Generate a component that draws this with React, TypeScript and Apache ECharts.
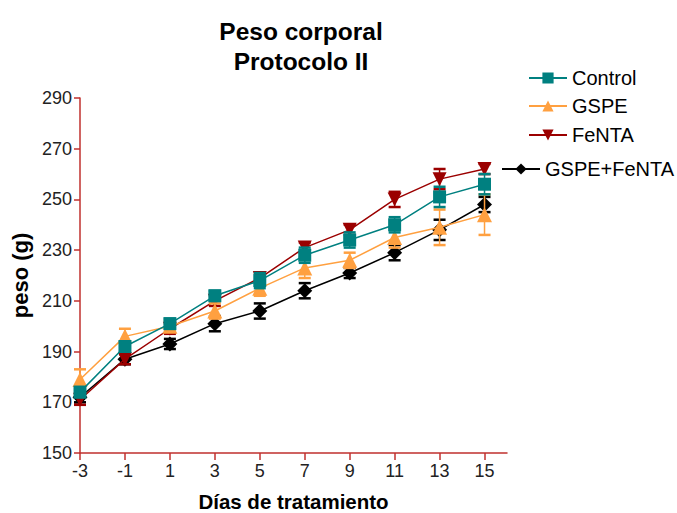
import React, { useEffect, useRef } from "react";
import * as echarts from "echarts";

const days = [-3, -1, 1, 3, 5, 7, 9, 11, 13, 15];
const yTicks = [150, 170, 190, 210, 230, 250, 270, 290];

const control = [174, 192, 201, 212, 218, 228, 234, 240, 251, 256];
const controlErr = [2, 2, 2, 2, 3, 3, 3, 3, 4, 4];
const gspe = [179, 196, 200, 206, 215, 223, 226, 235, 239, 244];
const gspeErr = [4, 3, 2, 3, 3, 4, 3, 4, 7, 8];
const fenta = [171, 187, 199, 210, 219, 231, 238, 250, 258, 262];
const fentaErr = [2, 2, 2, 2, 2, 2, 2, 3, 4, 2];
const combo = [172, 187, 193, 201, 206, 214, 221, 229, 238, 248];
const comboErr = [2, 2, 2, 3, 3, 3, 2, 3, 4, 3];

const FONT = "'Liberation Sans', Arial, sans-serif";
const AXIS = "#c0302e";

type S = { name: string; values: number[]; err: number[]; color: string; symbol: string; size: number; z: number };

const seriesDefs: S[] = [
  { name: "Control", values: control, err: controlErr, color: "#008080", symbol: "rect", size: 13, z: 8 },
  { name: "GSPE", values: gspe, err: gspeErr, color: "#ffa040", symbol: "triangle", size: 15, z: 6 },
  { name: "FeNTA", values: fenta, err: fentaErr, color: "#9b0000", symbol: "path://M0,0 L10,0 L5,10 Z", size: 14, z: 5 },
  { name: "GSPE+FeNTA", values: combo, err: comboErr, color: "#000000", symbol: "diamond", size: 15, z: 4 },
];

const legendPos = [
  { left: 528, top: 68 },
  { left: 528, top: 96 },
  { left: 528, top: 125 },
  { left: 501, top: 159 },
];

export default function App() {
  const ref = useRef<HTMLDivElement>(null);
  useEffect(() => {
    if (!ref.current) return;
    const chart = echarts.init(ref.current, null, { renderer: "svg" });
    const series: any[] = [];
    seriesDefs.forEach((s) => {
      series.push({
        name: s.name + " err",
        type: "custom",
        z: s.z,
        data: days.map((d, i) => [d, s.values[i] - s.err[i], s.values[i] + s.err[i]]),
        renderItem: (params: any, api: any) => {
          const x = api.value(0);
          const p1 = api.coord([x, api.value(2)]);
          const p2 = api.coord([x, api.value(1)]);
          const hw = 6;
          return {
            type: "group",
            children: [
              { type: "line", shape: { x1: p1[0], y1: p1[1], x2: p2[0], y2: p2[1] }, style: { stroke: s.color, lineWidth: 1.5 } },
              { type: "line", shape: { x1: p1[0] - hw, y1: p1[1], x2: p1[0] + hw, y2: p1[1] }, style: { stroke: s.color, lineWidth: 2.5 } },
              { type: "line", shape: { x1: p2[0] - hw, y1: p2[1], x2: p2[0] + hw, y2: p2[1] }, style: { stroke: s.color, lineWidth: 2.5 } },
            ],
          };
        },
        silent: true,
      });
      series.push({
        name: s.name,
        type: "line",
        z: s.z + 0.5,
        data: days.map((d, i) => [d, s.values[i]]),
        symbol: s.symbol,
        symbolSize: s.size,
        showAllSymbol: true,
        lineStyle: { color: s.color, width: 1.5 },
        itemStyle: { color: s.color },
      });
    });

    chart.setOption({
      animation: false,
      backgroundColor: "#ffffff",
      title: {
        text: "Peso corporal\nProtocolo II",
        left: 296,
        top: 11,
        textAlign: "center",
        textStyle: { fontFamily: FONT, fontWeight: "bold", fontSize: 24.5, lineHeight: 30, color: "#000" },
      },
      legend: seriesDefs.map((s, i) => ({
        data: [s.name],
        left: legendPos[i].left,
        top: legendPos[i].top,
        padding: 0,
        itemWidth: 38,
        itemHeight: 14,
        textStyle: { fontFamily: FONT, fontSize: 20, color: "#000" },
        selectedMode: false,
      })),
      grid: { left: 80, right: 170, top: 98, bottom: 60, containLabel: false, outerBoundsMode: "none" },
      xAxis: {
        type: "value",
        min: -3,
        max: 16,
        name: "Días de tratamiento",
        nameLocation: "middle",
        nameGap: 38,
        nameTextStyle: { fontFamily: FONT, fontWeight: "bold", fontSize: 20.5, color: "#000" },
        axisLine: { show: true, onZero: false, lineStyle: { color: AXIS, width: 1.5 } },
        axisTick: { show: true, length: 7, customValues: days, lineStyle: { color: AXIS, width: 1.5 } },
        axisLabel: { customValues: days, fontFamily: FONT, fontSize: 18, color: "#222", margin: 9 },
        splitLine: { show: false },
      },
      yAxis: {
        type: "value",
        min: 150,
        max: 290,
        name: "peso (g)",
        nameLocation: "middle",
        nameGap: 45,
        nameTextStyle: { fontFamily: FONT, fontWeight: "bold", fontSize: 22, color: "#000" },
        axisLine: { show: true, onZero: false, lineStyle: { color: AXIS, width: 1.5 } },
        axisTick: { show: true, length: 6, customValues: yTicks, lineStyle: { color: AXIS, width: 1.5 } },
        axisLabel: { customValues: yTicks, fontFamily: FONT, fontSize: 18, color: "#222", margin: 8 },
        splitLine: { show: false },
      },
      series,
    });
    return () => chart.dispose();
  }, []);
  return <div ref={ref} style={{ position: "absolute", left: 0, top: 0, width: 677, height: 513 }} />;
}
